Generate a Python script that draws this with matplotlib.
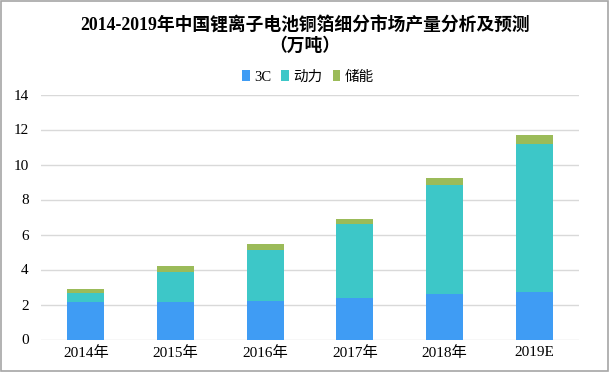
import numpy as np
import matplotlib
matplotlib.use("Agg")
import matplotlib.pyplot as plt
from matplotlib.patches import Rectangle

plt.rcParams['font.family'] = ['Liberation Serif', 'Noto Sans CJK SC', 'DejaVu Sans']

years = ['2014年', '2015年', '2016年', '2017年', '2018年', '2019E']
series = ['3C', '动力', '储能']
c3 = [2.14, 2.14, 2.20, 2.37, 2.62, 2.71]
power = [0.50, 1.73, 2.93, 4.21, 6.21, 8.46]
storage = [0.25, 0.33, 0.33, 0.31, 0.40, 0.52]

colors = ['#3F9CF4', '#3DC7C8', '#9BBB59']

fig = plt.figure(figsize=(6.1, 3.72), dpi=100)
ax = fig.add_axes([41/610, 32.5/372, 538/610, 245/372])

x = np.arange(len(years))
w = 0.41
bottom = np.zeros(len(years))
for vals, col, name in zip([c3, power, storage], colors, series):
    ax.bar(x, vals, w, bottom=bottom, color=col, label=name, zorder=3)
    bottom += np.array(vals)

ax.set_xlim(-0.5, len(years) - 0.5)
ax.set_ylim(0, 14)
ax.set_yticks(range(0, 15, 2))
ax.set_xticks(x)
ax.set_xticklabels(years)
ax.grid(axis='y', color='#D9D9D9', linewidth=1, zorder=0)
for s in ax.spines.values():
    s.set_visible(False)
ax.tick_params(length=0, labelsize=11)
ax.tick_params(axis='y', pad=9)
ax.tick_params(axis='x', pad=5)

fig.text(0.5, 1 - 25/372, '2014-2019年中国锂离子电池铜箔细分市场产量分析及预测',
         ha='center', va='center', fontsize=12.8, fontweight='bold')
fig.text(0.5, 1 - 46/372, '（万吨）', ha='center', va='center',
         fontsize=12.8, fontweight='bold')

ax.legend(loc='center', bbox_to_anchor=((308 - 41) / 538, (372 - 77 - 32.5) / 245), ncol=3,
          frameon=False, fontsize=10.5, handlelength=0.5, handleheight=0.7,
          handletextpad=0.3, columnspacing=0.7)

fig.patches.append(Rectangle((0.002, 0.002), 0.994, 0.994, transform=fig.transFigure,
                             fill=False, edgecolor='#A6A6A6', linewidth=1.2))

fig.savefig('out.png', dpi=100)
